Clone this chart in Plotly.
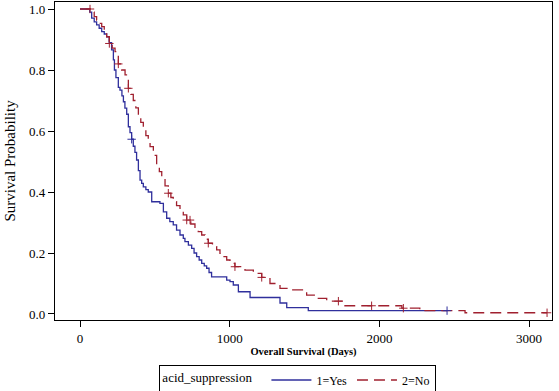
import numpy as np
import plotly.graph_objects as go

# ---- data (Kaplan-Meier steps) ----
yes_days = [0, 65, 78, 95, 111, 128, 145, 162, 178, 195, 211, 223, 230, 240, 256, 267, 280, 290, 300, 312,
            323, 334, 345, 356, 367, 378, 390, 401, 412, 423, 440, 456, 479, 534, 557, 579, 600, 623, 645,
            668, 690, 701, 724, 746, 762, 779, 796, 813, 830, 846, 862, 879, 980, 1002, 1024, 1058, 1136,
            1336, 1381, 1525, 2452]
yes_surv = [1.0, 0.99, 0.97, 0.958, 0.948, 0.937, 0.926, 0.918, 0.909, 0.89, 0.866, 0.833, 0.80, 0.775, 0.743,
            0.734, 0.715, 0.696, 0.675, 0.655, 0.614, 0.595, 0.573, 0.55, 0.53, 0.505, 0.47, 0.439, 0.428, 0.417,
            0.408, 0.40, 0.368, 0.363, 0.335, 0.314, 0.303, 0.292, 0.275, 0.259, 0.248, 0.237, 0.226, 0.215,
            0.20, 0.188, 0.177, 0.166, 0.158, 0.15, 0.136, 0.122, 0.111, 0.106, 0.095, 0.073, 0.054,
            0.036, 0.021, 0.011, 0.011]
yes_censor = [345, 2452]

no_days = [0, 78, 95, 111, 128, 145, 162, 178, 196, 215, 234, 256, 278, 301, 323, 340, 356, 373, 390, 406,
           423, 440, 456, 468, 490, 512, 530, 546, 568, 590, 607, 623, 645, 668, 690, 713, 740, 768, 790,
           813, 835, 857, 885, 913, 935, 957, 980, 1002, 1035, 1102, 1158, 1214, 1269, 1336, 1414, 1514,
           1592, 1648, 1770, 2150, 2270, 2572, 3120]
no_surv = [1.0, 0.99, 0.975, 0.964, 0.953, 0.942, 0.925, 0.909, 0.887, 0.872, 0.86, 0.82, 0.80, 0.784, 0.74,
           0.72, 0.70, 0.676, 0.652, 0.628, 0.603, 0.585, 0.567, 0.549, 0.52, 0.489, 0.467, 0.445, 0.42,
           0.396, 0.382, 0.368, 0.355, 0.341, 0.325, 0.308, 0.295, 0.281, 0.27, 0.259, 0.245, 0.232, 0.221,
           0.21, 0.199, 0.188, 0.177, 0.166, 0.155, 0.144, 0.133, 0.12, 0.10, 0.084, 0.079, 0.062, 0.051,
           0.042, 0.027, 0.019, 0.011, 0.004, 0.004]
no_censor = [67, 196, 256, 323, 590, 713, 735, 857, 1035, 1214, 1726, 1948, 2160, 3120]

x_ticks = [0, 1000, 2000, 3000]
y_ticks = [0.0, 0.2, 0.4, 0.6, 0.8, 1.0]
y_tick_text = ["0.0", "0.2", "0.4", "0.6", "0.8", "1.0"]

BLUE = "#2F2F9C"
RED = "#A0202F"
FONT = "Liberation Serif"


def step_at(days, surv, t):
    idx = np.searchsorted(np.array(days), t, side="right") - 1
    return surv[max(idx, 0)]


fig = go.Figure()
fig.add_trace(go.Scatter(x=yes_days, y=yes_surv, mode="lines", line_shape="hv",
                         line=dict(color=BLUE, width=1.3), name="1=Yes"))
fig.add_trace(go.Scatter(x=no_days, y=no_surv, mode="lines", line_shape="hv",
                         line=dict(color=RED, width=1.3, dash="11px,6px"), name="2=No"))
fig.add_trace(go.Scatter(x=yes_censor, y=[step_at(yes_days, yes_surv, t) for t in yes_censor],
                         mode="markers", showlegend=False, hoverinfo="skip",
                         marker=dict(symbol="cross-thin", size=6, line=dict(color=BLUE, width=1))))
fig.add_trace(go.Scatter(x=no_censor, y=[step_at(no_days, no_surv, t) for t in no_censor],
                         mode="markers", showlegend=False, hoverinfo="skip",
                         marker=dict(symbol="cross-thin", size=6, line=dict(color=RED, width=1))))

fig.update_layout(
    width=559, height=391,
    margin=dict(l=55, r=7, t=2, b=71, autoexpand=False),
    paper_bgcolor="white", plot_bgcolor="white",
    font=dict(family=FONT, color="black", size=13),
    showlegend=True,
    legend=dict(
        orientation="h", x=0.21, xanchor="left", y=-0.14, yanchor="top",
        bordercolor="black", borderwidth=1, bgcolor="white",
        font=dict(family=FONT, size=12, color="black"),
        title=dict(text="acid_suppression  ", font=dict(family=FONT, size=13, color="black"), side="left"),
        itemwidth=40, tracegroupgap=0,
    ),
)
fig.update_xaxes(
    range=[-167, 3153], tickvals=x_ticks, ticks="outside", ticklen=6, tickwidth=1, tickcolor="black",
    showline=True, mirror=True, linecolor="black", linewidth=1.2, showgrid=False, zeroline=False,
    tickfont=dict(family=FONT, size=13), automargin=False,
    title=dict(text="<b>Overall Survival (Days)</b>", font=dict(family=FONT, size=10.5), standoff=2),
)
fig.update_yaxes(
    range=[-0.0197, 1.023], tickvals=y_ticks, ticktext=y_tick_text, ticks="outside", ticklen=6,
    tickwidth=1, tickcolor="black", automargin=False,
    showline=True, mirror=True, linecolor="black", linewidth=1.2, showgrid=False, zeroline=False,
    tickfont=dict(family=FONT, size=13),
    title=dict(text="Survival Probability", font=dict(family=FONT, size=15), standoff=9),
)

fig.write_html("out.html", config={"displayModeBar": False},
               post_script="document.body.style.margin='0';document.body.style.overflow='hidden';")
